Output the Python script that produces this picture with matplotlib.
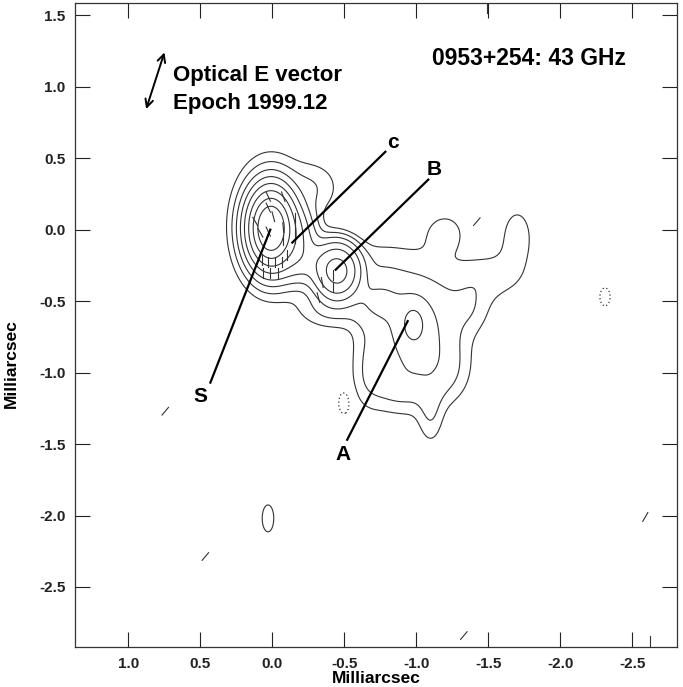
"""0953+254 at 43 GHz: VLBA total intensity contours with EVPA ticks."""
import numpy as np
import matplotlib
matplotlib.use("Agg")
import matplotlib.pyplot as plt

plt.rcParams["font.family"] = ["Liberation Sans", "DejaVu Sans"]

# Gaussian model components (mas, relative flux, sigma_x, sigma_y)
comp_x = [0.01, 0.01, 0.01, 0.01, -0.15, -0.30, -0.22, -0.45, -0.40, -0.98,
          -1.00, -0.72, -1.20, -1.50, -1.70, -1.38, -0.85, -1.10, -1.20, -0.66,
          -0.70, 0.03, -0.50, -2.31]
comp_y = [0.01, 0.01, 0.02, 0.04, -0.05, 0.30, -0.22, -0.29, -0.55, -0.66,
          -0.72, -0.48, -0.02, -0.33, -0.05, -0.55, -1.10, -1.30, -1.00, -0.95,
          -0.20, -2.02, -1.21, -0.47]
comp_amp = [0.9, 0.68, 0.029, 0.006, 0.05, 0.006, 0.03, 0.17, 0.008, 0.022,
            0.02, 0.012, 0.0055, 0.006, 0.006, 0.005, 0.006, 0.006, 0.005, 0.005,
            0.004, 0.008, -0.008, -0.008]
comp_sx = [0.045, 0.08, 0.13, 0.20, 0.08, 0.12, 0.12, 0.085, 0.15, 0.06,
           0.20, 0.12, 0.11, 0.17, 0.09, 0.10, 0.15, 0.06, 0.12, 0.08,
           0.20, 0.034, 0.035, 0.03]
comp_sy = [0.077, 0.136, 0.22, 0.34, 0.12, 0.12, 0.10, 0.105, 0.10, 0.10,
           0.28, 0.12, 0.11, 0.12, 0.17, 0.12, 0.12, 0.15, 0.15, 0.20,
           0.10, 0.08, 0.07, 0.053]

levels_pos = [0.004, 0.008, 0.016, 0.032, 0.064, 0.128, 0.256, 0.512]
levels_neg = [-0.004]

# polarization (EVPA) ticks: position (mas) and position angle (deg, N through E)
evpa_x = [0.028, -0.076, 0.028, -0.007, 0.118, 0.083, 0.028, -0.076, -0.076, -0.16,
          -0.16, -0.16, 0.069, 0.028, -0.021, -0.069, 0.063, 0.014, -0.042, -0.104,
          -0.347, -0.32, -0.424, -0.424, 0.743, 0.465, -1.33, -2.59, -1.49, -1.42,
          -2.62]
evpa_y = [0.231, 0.231, 0.154, 0.091, 0.056, -0.021, -0.014, 0.014, -0.07, 0.084,
          0.014, -0.056, -0.21, -0.224, -0.224, -0.224, -0.30, -0.30, -0.30, -0.175,
          -0.37, -0.475, -0.315, -0.40, -1.27, -2.287, -2.84, -2.01, 1.55, 0.056,
          -2.88]
evpa_pa = [25, 20, 25, 15, 30, 30, 25, 5, 0, 0,
           0, 0, 0, 0, 0, 0, 0, 0, 0, 0,
           10, 15, 0, 0, -40, -40, -40, -30, 0, -40,
           0]

# component labels: text position, line start, line end
lab_text = ["S", "c", "B", "A"]
lab_tx = [0.50, -0.84, -1.125, -0.49]
lab_ty = [-1.17, 0.61, 0.42, -1.57]
lab_x0 = [0.43, -0.785, -1.083, -0.52]
lab_y0 = [-1.07, 0.545, 0.35, -1.47]
lab_x1 = [0.014, -0.139, -0.44, -0.94]
lab_y1 = [0.0, -0.09, -0.28, -0.64]

x_ticks = [1.0, 0.5, 0.0, -0.5, -1.0, -1.5, -2.0, -2.5]
y_ticks = [1.5, 1.0, 0.5, 0.0, -0.5, -1.0, -1.5, -2.0, -2.5]


def model_image(xx, yy):
    img = np.zeros_like(xx)
    for x0, y0, a, sx, sy in zip(comp_x, comp_y, comp_amp, comp_sx, comp_sy):
        img += a * np.exp(-((xx - x0) ** 2 / (2 * sx ** 2) + (yy - y0) ** 2 / (2 * sy ** 2)))
    return img


fig = plt.figure(figsize=(6.83, 6.87), dpi=100)
ax = fig.add_axes([75 / 683, 1 - 647 / 687, 602 / 683, 644 / 687])

gx = np.linspace(-3.0, 1.5, 700)
gy = np.linspace(-3.0, 1.7, 720)
xx, yy = np.meshgrid(gx, gy)
img = model_image(xx, yy)

ax.contour(xx, yy, img, levels=levels_pos, colors="#333333", linewidths=0.8)
ax.contour(xx, yy, img, levels=levels_neg, colors="#333333", linewidths=0.9,
           linestyles=[(0, (1, 2))])

tick_len = 0.07
for x, y, pa in zip(evpa_x, evpa_y, evpa_pa):
    dx = tick_len / 2 * np.sin(np.radians(pa))
    dy = tick_len / 2 * np.cos(np.radians(pa))
    ax.plot([x - dx, x + dx], [y - dy, y + dy], color="#333333", lw=0.8)

for t, tx, ty, x0, y0, x1, y1 in zip(lab_text, lab_tx, lab_ty, lab_x0, lab_y0, lab_x1, lab_y1):
    ax.plot([x0, x1], [y0, y1], color="black", lw=1.6)
    ax.text(tx, ty, t, fontsize=15, fontweight="bold", ha="center", va="center")

ax.annotate("", xy=(0.743, 1.259), xytext=(0.882, 0.825),
            arrowprops=dict(arrowstyle="<->", lw=1.4, color="black", mutation_scale=14))
ax.text(0.69, 1.08, "Optical E vector", fontsize=16, fontweight="bold",
        ha="left", va="center")
ax.text(0.69, 0.88, "Epoch 1999.12", fontsize=16, fontweight="bold",
        ha="left", va="center")
ax.text(-1.78, 1.20, "0953+254: 43 GHz", fontsize=16.5, fontweight="bold",
        ha="center", va="center")

ax.set_xlim(1.37, -2.81)
ax.set_ylim(-2.92, 1.586)
ax.set_xticks(x_ticks)
ax.set_yticks(y_ticks)
ax.set_xticklabels([f"{v:.1f}" for v in x_ticks])
ax.set_yticklabels([f"{v:.1f}" for v in y_ticks])
ax.tick_params(direction="in", length=11, width=0.8, top=True, right=True,
               labelsize=11, pad=7, colors="#222222")
for lbl in ax.get_xticklabels() + ax.get_yticklabels():
    lbl.set_fontweight("bold")
for sp in ax.spines.values():
    sp.set_linewidth(0.9)
    sp.set_color("#333333")

ax.set_xlabel("Milliarcsec", fontsize=12.5, fontweight="bold", labelpad=0)
ax.set_ylabel("Milliarcsec", fontsize=12.5, fontweight="bold")
ax.yaxis.set_label_coords(-0.093, 0.44)

fig.savefig("out.png", dpi=100)
